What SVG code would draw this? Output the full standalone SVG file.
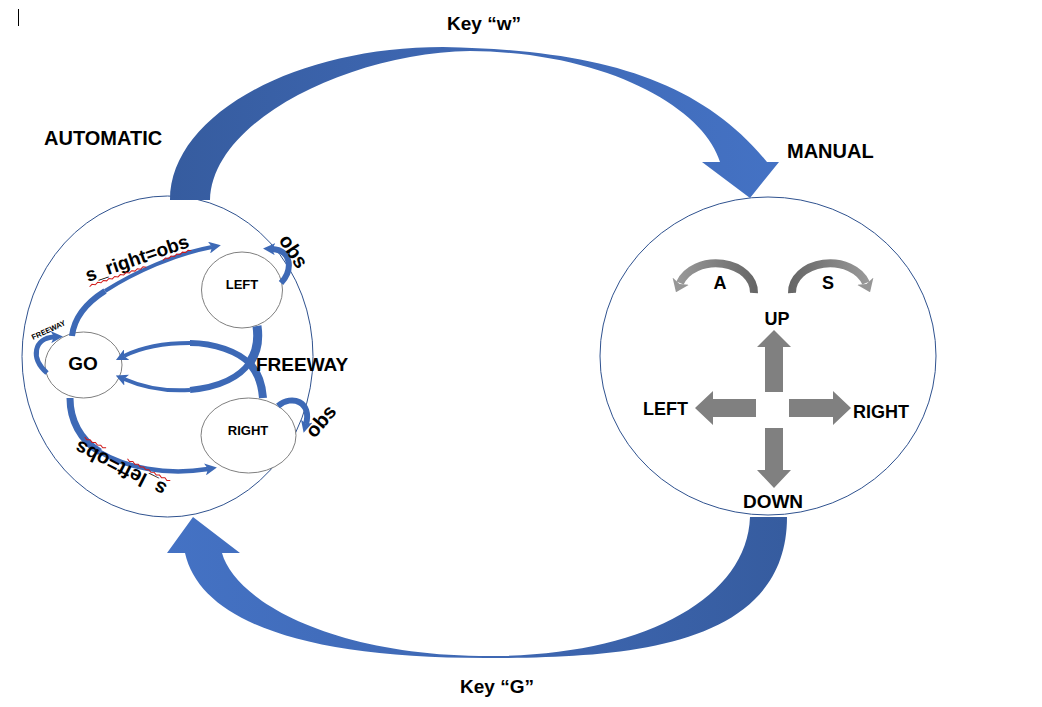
<svg xmlns="http://www.w3.org/2000/svg" width="1042" height="707" viewBox="0 0 1042 707">
<style>
.t{font-family:"Liberation Sans",Arial,sans-serif;font-weight:bold;fill:#000}
.big{stroke:#2F528F;stroke-width:1;fill:#fff}
.nd{stroke:#7F7F7F;stroke-width:1;fill:#fff}
.cn{fill:none;stroke:#3D69B6;stroke-linecap:butt}
.ga{fill:#808080}
.sq{fill:none;stroke:#D01818;stroke-width:1}
</style>
<defs>
<linearGradient id="gTop" gradientUnits="userSpaceOnUse" x1="170" y1="0" x2="780" y2="0">
<stop offset="0" stop-color="#365C9F"/><stop offset="0.45" stop-color="#3E67B2"/><stop offset="1" stop-color="#4472C4"/>
</linearGradient>
<linearGradient id="gBot" gradientUnits="userSpaceOnUse" x1="167" y1="0" x2="787" y2="0">
<stop offset="0" stop-color="#4472C4"/><stop offset="0.55" stop-color="#3E67B2"/><stop offset="1" stop-color="#365C9F"/>
</linearGradient>
<linearGradient id="gA" gradientUnits="userSpaceOnUse" x1="756" y1="0" x2="676" y2="0">
<stop offset="0" stop-color="#666"/><stop offset="1" stop-color="#9a9a9a"/>
</linearGradient>
<linearGradient id="gS" gradientUnits="userSpaceOnUse" x1="790" y1="0" x2="870" y2="0">
<stop offset="0" stop-color="#666"/><stop offset="1" stop-color="#9a9a9a"/>
</linearGradient>
<marker id="hb" viewBox="0 0 12 12" refX="3" refY="6" markerWidth="12" markerHeight="12" markerUnits="userSpaceOnUse" orient="auto">
<path d="M0,0 L12,6 L0,12 L3,6 Z" fill="#3D69B6"/>
</marker>
<marker id="hg" viewBox="0 0 12 18" refX="2" refY="9" markerWidth="12" markerHeight="18" markerUnits="userSpaceOnUse" orient="auto">
<path d="M0,0 L12,9 L0,18 L3,9 Z" fill="#969696"/>
</marker>
</defs>

<line x1="18.5" y1="9" x2="18.5" y2="26" stroke="#000" stroke-width="1"/>

<g id="automatic">
<ellipse class="big" cx="167.5" cy="356.5" rx="145.5" ry="160.5"/>
<text class="t" x="44" y="145" font-size="20">AUTOMATIC</text>
</g>

<g id="manual">
<ellipse class="big" cx="768" cy="356" rx="168" ry="159"/>
<text class="t" x="787" y="158" font-size="20">MANUAL</text>
<g id="rot-a">
<path d="M754,293 A38,29 0 0 0 680,283" fill="none" stroke="url(#gA)" stroke-width="8" marker-end="url(#hg)"/>
<text class="t" x="720" y="289" font-size="18" text-anchor="middle">A</text>
</g>
<g id="rot-s">
<path d="M792,293 A38,29 0 0 1 866,283" fill="none" stroke="url(#gS)" stroke-width="8" marker-end="url(#hg)"/>
<text class="t" x="828" y="289" font-size="18" text-anchor="middle">S</text>
</g>
<g id="dir-up">
<polygon class="ga" points="765,392 765,347 757,347 774,330 791,347 783,347 783,392"/>
<text class="t" x="777" y="325" font-size="18" text-anchor="middle">UP</text>
</g>
<g id="dir-left">
<polygon class="ga" points="756,399 713,399 713,391 695,408 713,425 713,417 756,417"/>
<text class="t" x="688" y="415" font-size="18" text-anchor="end">LEFT</text>
</g>
<g id="dir-right">
<polygon class="ga" points="789,399 833,399 833,391 851,408 833,425 833,417 789,417"/>
<text class="t" x="853" y="418" font-size="18">RIGHT</text>
</g>
<g id="dir-down">
<polygon class="ga" points="765,428 783,428 783,470 791,470 774,488 757,470 765,470"/>
<text class="t" x="773" y="508" font-size="19" text-anchor="middle">DOWN</text>
</g>
</g>

<g id="go">
<ellipse class="nd" cx="83.5" cy="365" rx="38.5" ry="33"/>
<text class="t" x="83" y="370" font-size="19" text-anchor="middle">GO</text>
</g>
<g id="left">
<ellipse class="nd" cx="242" cy="290" rx="40.5" ry="38"/>
<text class="t" x="242" y="289" font-size="13" text-anchor="middle">LEFT</text>
</g>
<g id="right">
<ellipse class="nd" cx="248.5" cy="435.5" rx="47.5" ry="37.5"/>
<text class="t" x="248" y="435" font-size="13" text-anchor="middle">RIGHT</text>
</g>

<g id="connectors">
<path id="key-w" d="M170,200 C170,116 293,47 443,47 C600,50 700,80 767,162 L779,162 L750,198 L702,162 L720,162 C705,110 610,52 470,51 C350,53 212,120 210,200 Z" fill="url(#gTop)"/>
<path id="key-g" d="M787,517 C787,650 620,658 485,658 C300,658 200,620 185,553 L167,553 L193,517 L240,553 L222,553 C235,600 330,656 490,656 C640,656 747,600 750,517 Z" fill="url(#gBot)"/>

<g id="go-left">
<path class="cn" stroke-width="6" d="M72,336 C74,318 86,303 105,291"/>
<path class="cn" stroke-width="4" d="M105,291 C135,272 175,254 212,247" marker-end="url(#hb)"/>
</g>
<g id="go-right">
<path class="cn" stroke-width="7" d="M70,398 C70,420 80,440 100,452"/>
<path class="cn" stroke-width="4.5" d="M100,452 C125,467 165,476 208,469" marker-end="url(#hb)"/>
</g>
<path id="go-loop" class="cn" stroke-width="5" d="M47,373 C30,358 34,338 54,337" marker-end="url(#hb)"/>
<path id="left-loop" class="cn" stroke-width="6" d="M281,283 C293,270 292,250 272,249" marker-end="url(#hb)"/>
<path id="right-loop" class="cn" stroke-width="6" d="M278,406 C292,394 312,402 306,424" marker-end="url(#hb)"/>
<g id="left-go">
<path class="cn" stroke-width="9" d="M257,326 C259,340 257,352 250,362"/>
<path class="cn" stroke-width="6" d="M250,362 C240,377 220,387 190,390"/>
<path class="cn" stroke-width="4" d="M190,390 C160,392 140,386 124,379" marker-end="url(#hb)"/>
</g>
<g id="right-go">
<path class="cn" stroke-width="8" d="M263,398 C262,385 258,372 249,363"/>
<path class="cn" stroke-width="6" d="M249,363 C238,352 215,343 190,343"/>
<path class="cn" stroke-width="4" d="M190,343 C160,343 140,348 124,356" marker-end="url(#hb)"/>
</g>
</g>

<g id="labels">
<text class="t" x="484" y="30" font-size="19" text-anchor="middle">Key “w”</text>
<text class="t" x="497" y="693" font-size="19" text-anchor="middle">Key “G”</text>
<text class="t" x="256" y="371" font-size="19">FREEWAY</text>
<g transform="translate(88,282) rotate(-19)">
<text class="t" x="0" y="0" font-size="19">s_right=obs</text>
<path class="sq" d="M0,5 l3,-1.5 l3,1.5 l3,-1.5 l3,1.5 l3,-1.5 l3,1.5 l3,-1.5 l3,1.5 l3,-1.5 l3,1.5 l3,-1.5 l3,1.5 l3,-1.5 l3,1.5 l3,-1.5 l3,1.5 l3,-1.5 l3,1.5 l3,-1.5 l3,1.5"/>
<path class="sq" d="M78,4 l3,-1.5 l3,1.5 l3,-1.5 l3,1.5 l3,-1.5 l3,1.5 l3,-1.5 l3,1.5 l3,-1.5 l3,1.5"/>
</g>
<g transform="translate(168,485) rotate(207)">
<text class="t" x="0" y="0" font-size="20">s_left=obs</text>
<path class="sq" d="M0,5 l3,-1.5 l3,1.5 l3,-1.5 l3,1.5 l3,-1.5 l3,1.5 l3,-1.5 l3,1.5 l3,-1.5 l3,1.5 l3,-1.5 l3,1.5 l3,-1.5 l3,1.5 l3,-1.5 l3,1.5"/>
<path class="sq" d="M72,5 l3,-1.5 l3,1.5 l3,-1.5 l3,1.5 l3,-1.5 l3,1.5 l3,-1.5 l3,1.5"/>
</g>
<text class="t" x="0" y="0" font-size="7.5" text-anchor="middle" transform="translate(49.6,332.4) rotate(-25)">FREEWAY</text>
<text class="t" x="0" y="0" font-size="20" text-anchor="middle" transform="translate(288,255) rotate(57)">obs</text>
<text class="t" x="0" y="0" font-size="20" text-anchor="middle" transform="translate(326,425.5) rotate(-50)">obs</text>
</g>
</svg>
